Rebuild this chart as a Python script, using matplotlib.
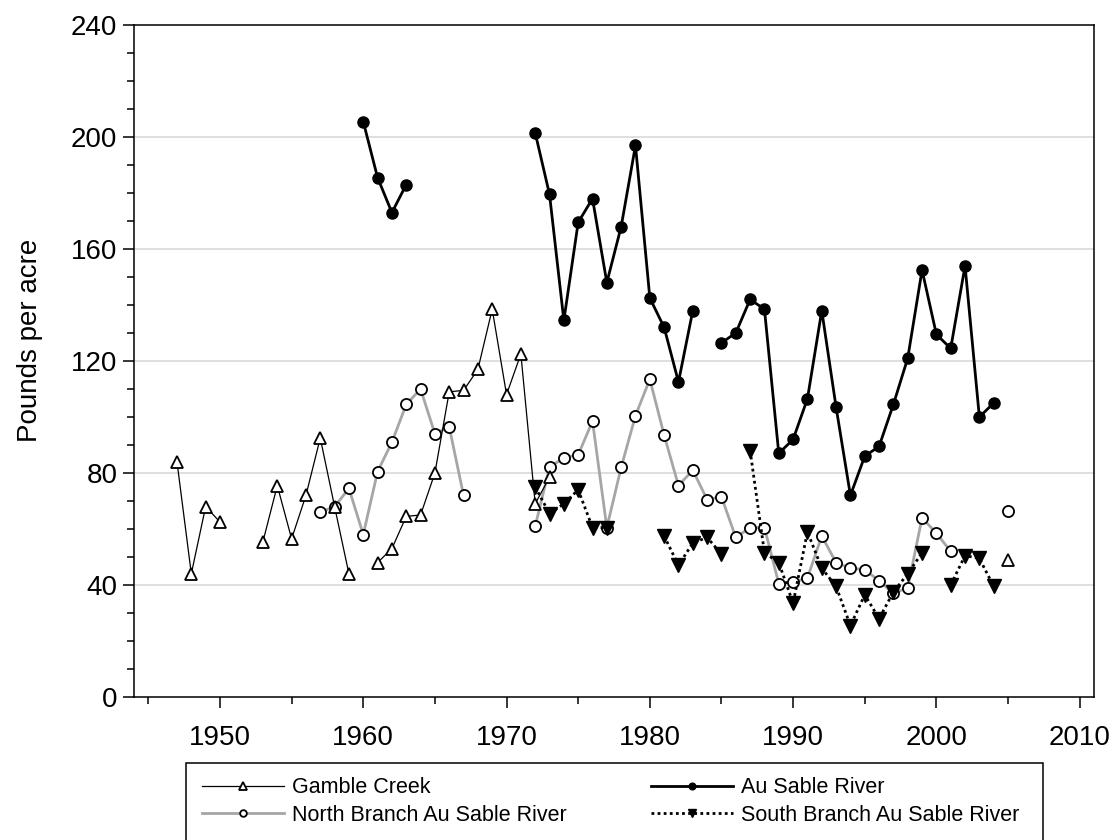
import numpy as np
import matplotlib
matplotlib.use("Agg")
import matplotlib.pyplot as plt
from matplotlib.lines import Line2D
from matplotlib.patches import Rectangle
from matplotlib.ticker import MultipleLocator

nan = np.nan

# Gamble Creek
gc_years = [1947, 1948, 1949, 1950, 1951, 1953, 1954, 1955, 1956, 1957, 1958, 1959,
            1960, 1961, 1962, 1963, 1964, 1965, 1966, 1967, 1968, 1969, 1970, 1971,
            1972, 1973, 1974, 2005]
gc_vals = [84, 44, 68, 62.5, nan, 55.5, 75.5, 56.5, 72, 92.5, 68, 44,
           nan, 48, 53, 64.5, 65, 80, 109, 109.5, 117, 138.5, 108, 122.5,
           69, 78.5, nan, 49]

# Au Sable River (main stem)
as_years = [1960, 1961, 1962, 1963, 1964, 1972, 1973, 1974, 1975, 1976, 1977, 1978,
            1979, 1980, 1981, 1982, 1983, 1984, 1985, 1986, 1987, 1988, 1989, 1990,
            1991, 1992, 1993, 1994, 1995, 1996, 1997, 1998, 1999, 2000, 2001, 2002,
            2003, 2004]
as_vals = [205.5, 185.5, 173, 183, nan, 201.5, 179.5, 134.5, 169.5, 178, 148, 168,
           197, 142.5, 132, 112.5, 138, nan, 126.5, 130, 142, 138.5, 87, 92,
           106.5, 138, 103.5, 72, 86, 89.5, 104.5, 121, 152.5, 129.5, 124.5, 154,
           100, 105]

# North Branch Au Sable River
nb_years = [1957, 1958, 1959, 1960, 1961, 1962, 1963, 1964, 1965, 1966, 1967, 1968,
            1972, 1973, 1974, 1975, 1976, 1977, 1978, 1979, 1980, 1981, 1982, 1983,
            1984, 1985, 1986, 1987, 1988, 1989, 1990, 1991, 1992, 1993, 1994, 1995,
            1996, 1997, 1998, 1999, 2000, 2001, 2002, 2005]
nb_vals = [66, 68, 74.5, 58, 80.5, 91, 104.5, 110, 94, 96.5, 72, nan,
           61, 82, 85.5, 86.5, 98.5, 60.5, 82, 100.5, 113.5, 93.5, 75.5, 81,
           70.5, 71.5, 57, 60.5, 60.5, 40.5, 41, 42.5, 57.5, 48, 46, 45.5,
           41.5, 37, 39, 64, 58.5, 52, nan, 66.5]

# South Branch Au Sable River
sb_years = [1972, 1973, 1974, 1975, 1976, 1977, 1978, 1981, 1982, 1983, 1984, 1985,
            1986, 1987, 1988, 1989, 1990, 1991, 1992, 1993, 1994, 1995, 1996, 1997,
            1998, 1999, 2000, 2001, 2002, 2003, 2004]
sb_vals = [75, 65.5, 69, 74, 60.5, 60.5, nan, 57.5, 47, 55, 57, 51,
           nan, 88, 51.5, 48, 33.5, 59, 46, 39.5, 25.5, 36.5, 28, 37.5,
           44, 51.5, nan, 40, 50.5, 49.5, 39.5]

labels = ["Gamble Creek", "North Branch Au Sable River",
          "Au Sable River", "South Branch Au Sable River"]

plt.rcParams["font.family"] = ["Liberation Sans", "DejaVu Sans"]

W, H = 1119, 840
fig = plt.figure(figsize=(W / 100, H / 100), dpi=100)
ax = fig.add_axes([134 / W, 1 - 697 / H, 960 / W, 672 / H])

gray = "#a6a6a6"
style = {
    "gc": dict(color="black", lw=0.9, marker="^", ms=9, mfc="white", mec="black", mew=1.3),
    "nb": dict(color=gray, lw=2.0, marker="o", ms=8, mfc="white", mec="black", mew=1.3),
    "as": dict(color="black", lw=2.0, marker="o", ms=8, mfc="black", mec="black"),
    "sb": dict(color="black", lw=2.0, ls=(0, (1, 1.2)), marker="v", ms=10,
               mfc="black", mec="black"),
}

ax.plot(nb_years, nb_vals, zorder=3, **style["nb"])
ax.plot(gc_years, gc_vals, zorder=4, **style["gc"])
ax.plot(sb_years, sb_vals, zorder=5, **style["sb"])
ax.plot(as_years, as_vals, zorder=6, **style["as"])

ax.set_xlim(1944, 2011)
ax.set_ylim(0, 240)
ax.xaxis.set_major_locator(MultipleLocator(10))
ax.xaxis.set_minor_locator(MultipleLocator(5))
ax.yaxis.set_major_locator(MultipleLocator(40))
ax.yaxis.set_minor_locator(MultipleLocator(10))
ax.set_xticks(range(1950, 2011, 10))
ax.set_xticklabels([str(y) for y in range(1950, 2011, 10)])

for gy in range(40, 240, 40):
    ax.axhline(gy, color="#dcdcdc", lw=1.3, zorder=1)

ax.tick_params(axis="both", which="major", labelsize=20, length=8, width=1.1,
               direction="out", colors="black")
ax.tick_params(axis="both", which="minor", length=5, width=1.1, direction="out")
ax.tick_params(axis="x", which="major", pad=12)
ax.tick_params(axis="y", which="major", pad=4)
for s in ax.spines.values():
    s.set_linewidth(1.1)

fig.text(30 / W, 1 - 340 / H, "Pounds per acre", rotation=90, fontsize=20,
         ha="center", va="center")

# Legend handles with smaller markers
def proxy(key):
    kw = dict(style[key])
    kw["ms"] = kw["ms"] * 0.6
    return Line2D([], [], **kw)

leg_kw = dict(frameon=False, loc="center left", borderpad=0, borderaxespad=0,
              handlelength=3.8, handletextpad=0.4, labelspacing=0.32, numpoints=1,
              fontsize=15.5)
leg_y = 1 - 801.5 / H
leg1 = fig.legend([proxy("gc"), proxy("nb")], labels[:2],
                  bbox_to_anchor=(202 / W, leg_y), **leg_kw)
leg2 = fig.legend([proxy("as"), proxy("sb")], labels[2:],
                  bbox_to_anchor=(651 / W, leg_y), **leg_kw)

fig.add_artist(Rectangle((186 / W, -0.05), 857 / W, 0.05 + (840 - 763) / H,
                         transform=fig.transFigure, fill=False, lw=1.1,
                         edgecolor="black", clip_on=False))

fig.savefig("out.png", dpi=100)
